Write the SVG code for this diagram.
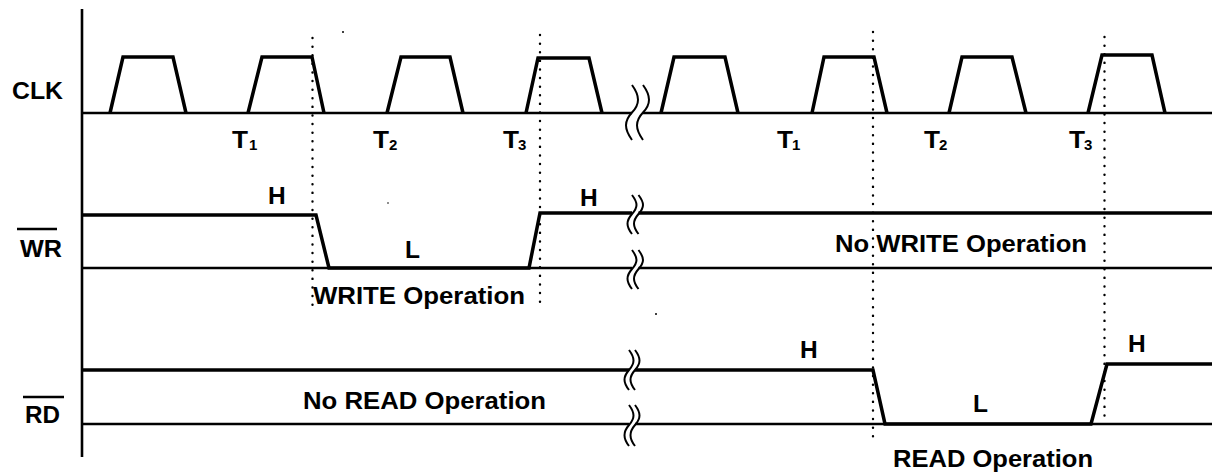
<svg xmlns="http://www.w3.org/2000/svg" width="1214" height="472" viewBox="0 0 1214 472">
<style>
.sig{fill:none;stroke:#000;stroke-width:3.5;stroke-linejoin:miter}
.base{fill:none;stroke:#000;stroke-width:2.6}
.brk{fill:none;stroke:#000;stroke-width:2}
.dot{fill:none;stroke:#000;stroke-width:2.4;stroke-dasharray:0.1 8.5;stroke-linecap:round}
text{font-family:"Liberation Sans",Arial,Helvetica,sans-serif;font-weight:bold;fill:#000}
.lbl{font-size:24.5px}
.sig-name{font-size:23px}
.t{font-size:23px}
.sub{font-size:15px}
</style>
<rect width="1214" height="472" fill="#fff"/>

<g id="axis">
<line x1="82" y1="9" x2="82" y2="457" stroke="#000" stroke-width="2.6"/>
</g>

<g id="guides">
<line class="dot" x1="312.5" y1="38" x2="312.5" y2="310"/>
<line class="dot" x1="540" y1="35" x2="540" y2="308"/>
<line class="dot" x1="873" y1="32" x2="873" y2="442"/>
<line class="dot" x1="1104.5" y1="37" x2="1104.5" y2="417"/>
<circle cx="343" cy="32" r="1" fill="#000"/>
<circle cx="388" cy="203" r="0.8" fill="#000"/>
<circle cx="656" cy="314" r="1" fill="#000"/>
</g>

<g id="clk">
<text class="lbl" x="12" y="99" textLength="51" lengthAdjust="spacingAndGlyphs">CLK</text>
<polyline class="base" points="82,113 632,113"/>
<polyline class="base" points="643,113 1212,113"/>
<polyline class="sig" points="110,113 123,57 173,57 186,113"/>
<polyline class="sig" points="248,113 262,57 312,57 324,113"/>
<polyline class="sig" points="387,113 401,57 450,57 463,113"/>
<polyline class="sig" points="526,113 538,58 589,58 602,113"/>
<polyline class="sig" points="661,113 674,57 725,57 738,113"/>
<polyline class="sig" points="812,113 824,57 874,57 887,113"/>
<polyline class="sig" points="949,113 962,57 1012,57 1026,113"/>
<polyline class="sig" points="1088,113 1102,55 1152,55 1165,113"/>
<path class="brk" d="M632,85 C640,96 640,104 632,112.5 C624,121 624,129 632,140"/>
<path class="brk" d="M643,85 C651,96 651,104 643,112.5 C635,121 635,129 643,140"/>
<text class="t" x="232" y="148" textLength="16" lengthAdjust="spacingAndGlyphs">T</text><text class="sub" x="249" y="150">1</text>
<text class="t" x="373" y="148" textLength="16" lengthAdjust="spacingAndGlyphs">T</text><text class="sub" x="389" y="150">2</text>
<text class="t" x="503" y="148" textLength="16" lengthAdjust="spacingAndGlyphs">T</text><text class="sub" x="518" y="150">3</text>
<text class="t" x="777" y="148" textLength="16" lengthAdjust="spacingAndGlyphs">T</text><text class="sub" x="792" y="150">1</text>
<text class="t" x="924" y="148" textLength="16" lengthAdjust="spacingAndGlyphs">T</text><text class="sub" x="939" y="150">2</text>
<text class="t" x="1069" y="148" textLength="16" lengthAdjust="spacingAndGlyphs">T</text><text class="sub" x="1084" y="150">3</text>
</g>

<g id="wr">
<text class="sig-name" x="20" y="257" textLength="42" lengthAdjust="spacingAndGlyphs">WR</text>
<line x1="17" y1="229" x2="57" y2="229" stroke="#000" stroke-width="2.4"/>
<polyline class="base" points="82,268 632,268"/>
<polyline class="base" points="638.5,268 1212,268"/>
<polyline class="sig" points="82,215 316,215 329,268 529,268 540,213 632,213"/>
<polyline class="sig" points="638.5,213 1212,213"/>
<path class="brk" d="M632,195 C638,203 638,207 632,214 C626,221 626,226 632,234"/>
<path class="brk" d="M638.5,195 C644.5,203 644.5,207 638.5,214 C632.5,221 632.5,226 638.5,234"/>
<path class="brk" d="M632,250 C638,258 638,262 632,269 C626,276 626,281 632,289"/>
<path class="brk" d="M638.5,250 C644.5,258 644.5,262 638.5,269 C632.5,276 632.5,281 638.5,289"/>
<text class="lbl" x="268" y="204">H</text>
<text class="lbl" x="405" y="258">L</text>
<text class="lbl" x="580" y="206">H</text>
<text class="lbl" x="313" y="304" textLength="212" lengthAdjust="spacingAndGlyphs">WRITE Operation</text>
<text class="lbl" x="835" y="252" textLength="252" lengthAdjust="spacingAndGlyphs">No WRITE Operation</text>
</g>

<g id="rd">
<text class="sig-name" x="25" y="423" textLength="35" lengthAdjust="spacingAndGlyphs">RD</text>
<line x1="23" y1="397" x2="64" y2="397" stroke="#000" stroke-width="2.4"/>
<polyline class="base" points="82,424 629,424"/>
<polyline class="base" points="635,424 1212,424"/>
<polyline class="sig" points="82,370 629,370"/>
<polyline class="sig" points="635,370 873,370 885,424 1091,424 1107,364 1212,364"/>
<path class="brk" d="M629,350 C635,358 635,363 629,370 C623,377 623,382 629,390"/>
<path class="brk" d="M635,350 C641,358 641,363 635,370 C629,377 629,382 635,390"/>
<path class="brk" d="M629,405 C635,413 635,418 629,425 C623,432 623,438 629,446"/>
<path class="brk" d="M635,405 C641,413 641,418 635,425 C629,432 629,438 635,446"/>
<text class="lbl" x="800" y="358">H</text>
<text class="lbl" x="973" y="412">L</text>
<text class="lbl" x="1128" y="352">H</text>
<text class="lbl" x="303" y="409" textLength="243" lengthAdjust="spacingAndGlyphs">No READ Operation</text>
<text class="lbl" x="893" y="467" textLength="200" lengthAdjust="spacingAndGlyphs">READ Operation</text>
</g>
</svg>
